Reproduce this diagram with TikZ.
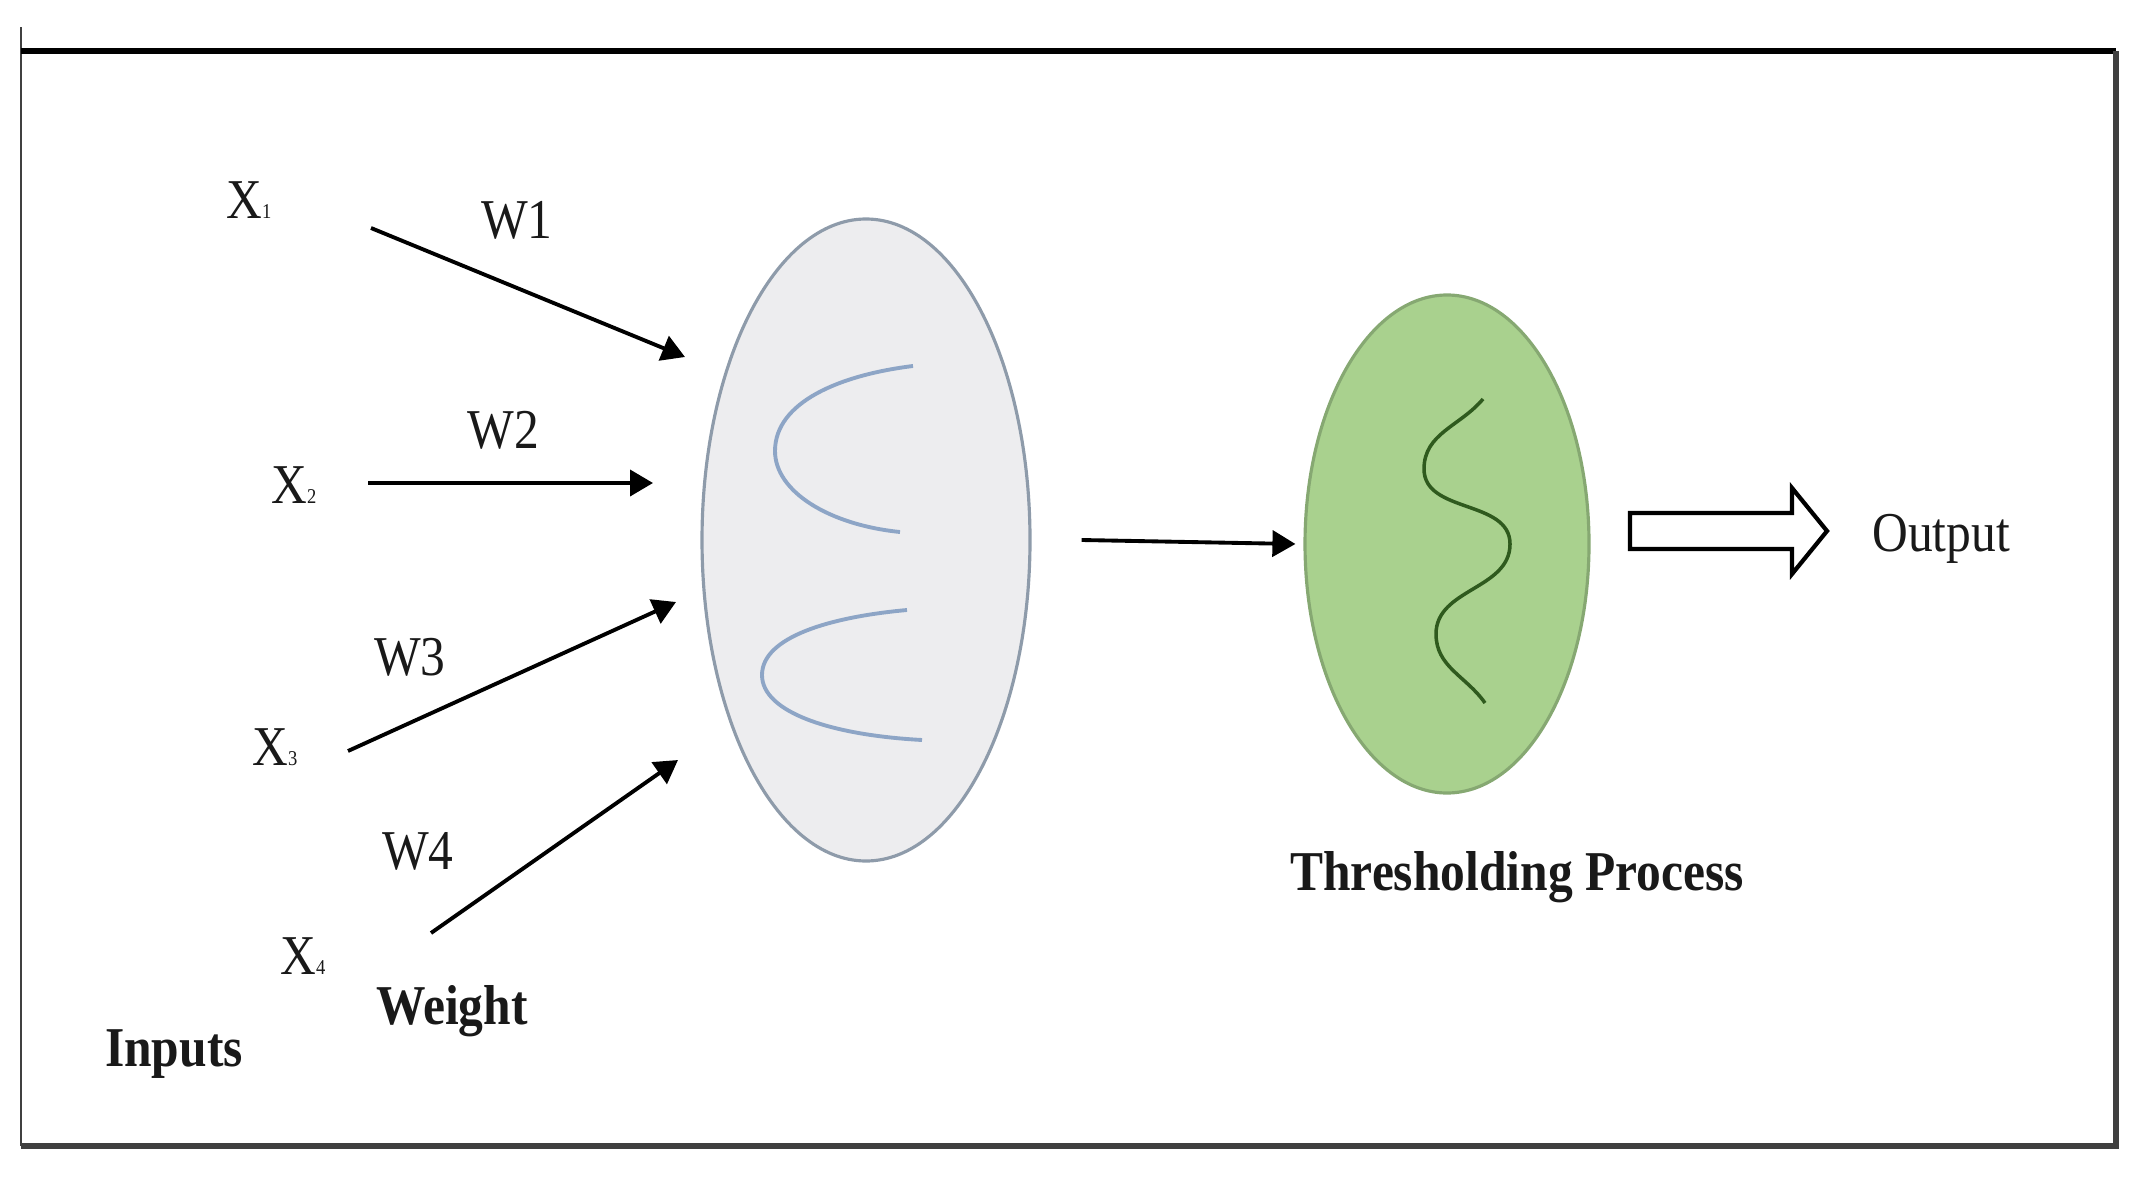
\documentclass[tikz,border=0pt]{standalone}
\usepackage{fontspec}
\setmainfont{Liberation Serif}
\usetikzlibrary{arrows.meta,shapes.geometric}

\definecolor{sumfill}{HTML}{EDEDEF}
\definecolor{sumline}{HTML}{8E9BAA}
\definecolor{arcblue}{HTML}{8DA5C6}
\definecolor{thrfill}{HTML}{A9D18E}
\definecolor{thrline}{HTML}{86A872}
\definecolor{squig}{HTML}{2F5A1E}

\newcommand{\xin}[1]{X{\fontsize{6}{7}\selectfont #1}}

\begin{document}
\begin{tikzpicture}[
    >={Triangle[length=2.3mm,width=2.6mm]},
    lbl/.style={font=\fontsize{16}{19}\selectfont, text=black!90, xscale=0.88, anchor=base, inner sep=0pt},
    blbl/.style={lbl, font=\fontsize{16}{19}\selectfont\bfseries},
    wire/.style={->, line width=1.1pt},
    sumcell/.style={ellipse, draw=sumline, fill=sumfill, line width=0.9pt, minimum width=3.28cm, minimum height=6.42cm, inner sep=0pt},
    thrcell/.style={ellipse, draw=thrline, fill=thrfill, line width=0.9pt, minimum width=2.84cm, minimum height=4.98cm, inner sep=0pt}
  ]
  \useasboundingbox (0,0) rectangle (21.43,11.77);

  % frame
  \draw[line width=0.6pt, black!75] (0.21,0.31) -- (0.21,11.50);
  \draw[line width=1.5pt] (0.21,11.26) -- (21.16,11.26);
  \draw[line width=1.5pt, black!75] (21.16,11.26) -- (21.16,0.31) -- (0.21,0.31);

  % inputs and weights
  \node[lbl] (x1) at (2.49,9.58) {\xin{1}};
  \node[lbl] (x2) at (2.94,6.74) {\xin{2}};
  \node[lbl] (x3) at (2.75,4.12) {\xin{3}};
  \node[lbl] (x4) at (3.03,2.03) {\xin{4}};
  \node[lbl] (w1) at (5.17,9.38) {W1};
  \node[lbl] (w2) at (5.03,7.29) {W2};
  \node[lbl] (w3) at (4.10,5.02) {W3};
  \node[lbl] (w4) at (4.18,3.08) {W4};
  \node[blbl] (weight) at (4.52,1.53) {Weight};
  \node[blbl] (inputs) at (1.74,1.11) {Inputs};

  % summation cell
  \node[sumcell] (sum) at (8.66,6.37) {};
  \draw[arcblue, line width=1.1pt] (9.13,8.11) .. controls (8.40,8.02) and (7.75,7.75) .. (7.75,7.26)
    .. controls (7.75,6.85) and (8.30,6.52) .. (9.00,6.45);
  \draw[arcblue, line width=1.1pt] (9.07,5.67) .. controls (8.30,5.60) and (7.62,5.40) .. (7.62,5.02)
    .. controls (7.62,4.65) and (8.30,4.42) .. (9.22,4.37);

  \coordinate (s1) at (3.71,9.49);  \coordinate (e1) at (6.85,8.20);
  \coordinate (s2) at (3.68,6.94);  \coordinate (e2) at (6.53,6.94);
  \coordinate (s3) at (3.48,4.26);  \coordinate (e3) at (6.76,5.75);
  \coordinate (s4) at (4.31,2.44);  \coordinate (e4) at (6.78,4.17);
  \draw[wire] (s1) -- (e1);
  \draw[wire] (s2) -- (e2);
  \draw[wire] (s3) -- (e3);
  \draw[wire] (s4) -- (e4);

  % thresholding cell
  \node[thrcell] (thr) at (14.47,6.33) {};
  \draw[squig, line width=1pt] (14.83,7.78) to[out=230,in=90] (14.24,7.08)
    to[out=-90,in=90] (15.10,6.33) to[out=-90,in=90] (14.36,5.43) to[out=-90,in=125] (14.85,4.74);
  \node[blbl] (thrlbl) at (15.17,2.87) {Thresholding Process};

  \draw[wire] ([xshift=5mm]sum.east) -- ([xshift=-0.8mm]thr.west);

  % output
  \coordinate (bs) at (16.30,6.46);
  \draw[line width=1.2pt, fill=white] (bs) ++(0,0.18) -- ++(1.62,0) -- ++(0,0.25) -- ++(0.35,-0.43)
    -- ++(-0.35,-0.43) -- ++(0,0.25) -- ++(-1.62,0) -- cycle;
  \node[lbl] (out) at (19.41,6.26) {Output};
\end{tikzpicture}
\end{document}
